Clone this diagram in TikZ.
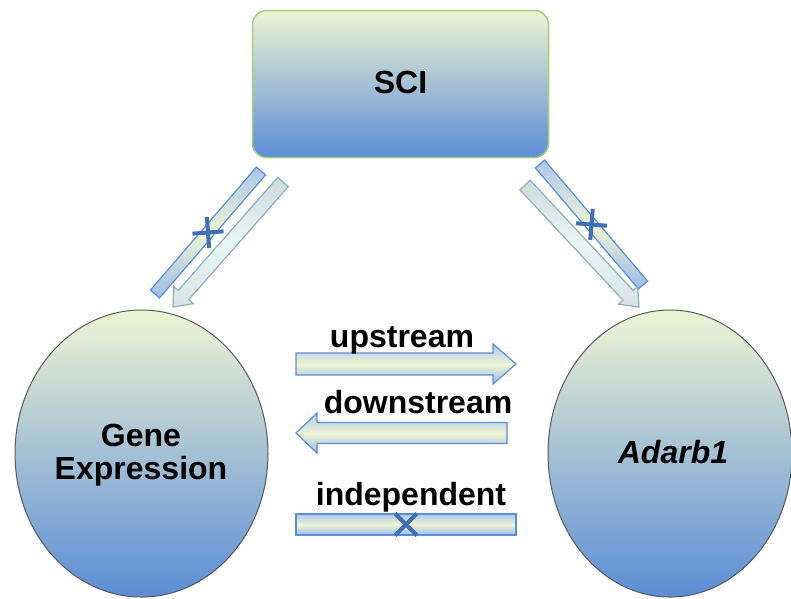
\documentclass[tikz,border=0pt]{standalone}
\usepackage{fontspec}
\setmainfont{Liberation Sans}
\usetikzlibrary{shapes.geometric,calc}

\definecolor{paleyel}{HTML}{EEF4D4}
\definecolor{deepblue}{HTML}{5B8DD5}
\definecolor{barblue}{HTML}{5A8ED6}
\definecolor{crossblue}{HTML}{3F6FB4}
\definecolor{tealedge}{HTML}{8EB0B8}
\definecolor{boxedge}{HTML}{A9C97C}

% fat arrow: style, from, to, half body, half head, head length
\newcommand{\fatarrow}[6]{%
  \path let \p1=($(#3)-(#2)$) in \pgfextra{%
    \pgfmathsetmacro\arrang{atan2(\y1,\x1)}%
    \pgfmathsetmacro\arrlen{veclen(\x1,\y1)}%
    \xdef\arrang{\arrang}\xdef\arrlen{\arrlen}};
  \begin{scope}[shift={(#2)}, rotate=\arrang]
    \path[#1] (0pt,-#4pt) -- ({\arrlen*1pt-#6pt},-#4pt) -- ({\arrlen*1pt-#6pt},-#5pt)
      -- ({\arrlen*1pt},0pt) -- ({\arrlen*1pt-#6pt},#5pt) -- ({\arrlen*1pt-#6pt},#4pt)
      -- (0pt,#4pt) -- cycle;
  \end{scope}}

% crossed bar: style, from, to, half width
\newcommand{\fatbar}[4]{%
  \path let \p1=($(#3)-(#2)$) in \pgfextra{%
    \pgfmathsetmacro\arrang{atan2(\y1,\x1)}%
    \pgfmathsetmacro\arrlen{veclen(\x1,\y1)}%
    \xdef\arrang{\arrang}\xdef\arrlen{\arrlen}};
  \begin{scope}[shift={(#2)}, rotate=\arrang]
    \path[#1] (0pt,-#4pt) -- ({\arrlen*1pt},-#4pt) -- ({\arrlen*1pt},#4pt)
      -- (0pt,#4pt) -- cycle;
    \draw[cross] ({\arrlen*0.5pt-11pt},-11pt) -- ++(22pt,22pt)
      ({\arrlen*0.5pt-11pt},11pt) -- ++(22pt,-22pt);
  \end{scope}}

\begin{document}
\begin{tikzpicture}[x=1pt,y=-1pt,
    txt/.style={font=\bfseries\fontsize{32}{33}\selectfont, text=black},
    scibox/.style={draw=boxedge, line width=1.5pt, rounded corners=14pt,
      top color=paleyel, bottom color=deepblue,
      minimum width=296pt, minimum height=147pt, inner sep=0pt},
    blob/.style={ellipse, draw=black!65, line width=1pt,
      top color=paleyel, bottom color=deepblue, inner sep=0pt},
    flat/.style={draw=barblue, line width=1.2pt,
      top color=barblue!50, bottom color=barblue!60, middle color=paleyel},
    pale/.style={draw=tealedge, line width=1.2pt,
      top color=tealedge!45, bottom color=tealedge!35, middle color=white!92!teal},
    cross/.style={draw=crossblue, line width=4pt}]

  \useasboundingbox (0,0) rectangle (791,598);

  \node[scibox] (sci) at (400.5,84) {};
  \node[txt, anchor=base] (scitxt) at (400.5,93) {SCI};

  \node[blob, minimum width=253pt, minimum height=287pt] (gene) at (141.5,453.5) {};
  \node[txt, align=center] (genetxt) at (141,455) {Gene\\Expression};

  \node[blob, minimum width=244pt, minimum height=287pt] (adarb) at (670,453.5) {};
  \node[txt, anchor=base, font=\bfseries\itshape\fontsize{32}{33}\selectfont] (adarbtxt) at (673,463) {Adarb1};

  % end points of the fat connectors
  \coordinate (ls) at (261,171);  \coordinate (le) at (155,294);
  \coordinate (las) at (283,182); \coordinate (lae) at (173,307);
  \coordinate (rs) at (540,164);  \coordinate (re) at (643,285);
  \coordinate (ras) at (525,185); \coordinate (rae) at (639,307);
  \coordinate (ups) at (296,364); \coordinate (upe) at (516,364);
  \coordinate (dns) at (507,433); \coordinate (dne) at (296,433);
  \coordinate (ins) at (296,524.5); \coordinate (ine) at (516,524.5);

  \fatbar{flat}{ls}{le}{6}
  \fatarrow{pale}{las}{lae}{7}{13}{16}
  \fatbar{flat}{rs}{re}{6}
  \fatarrow{pale}{ras}{rae}{7}{13}{16}

  \fatarrow{flat}{ups}{upe}{11}{20}{23}
  \fatarrow{flat}{dns}{dne}{10.5}{20}{21}
  \fatbar{flat}{ins}{ine}{10.5}

  \node[txt, anchor=base] (uptxt) at (402,347) {upstream};
  \node[txt, anchor=base] (dntxt) at (418,413) {downstream};
  \node[txt, anchor=base] (intxt) at (411,505) {independent};
\end{tikzpicture}
\end{document}
